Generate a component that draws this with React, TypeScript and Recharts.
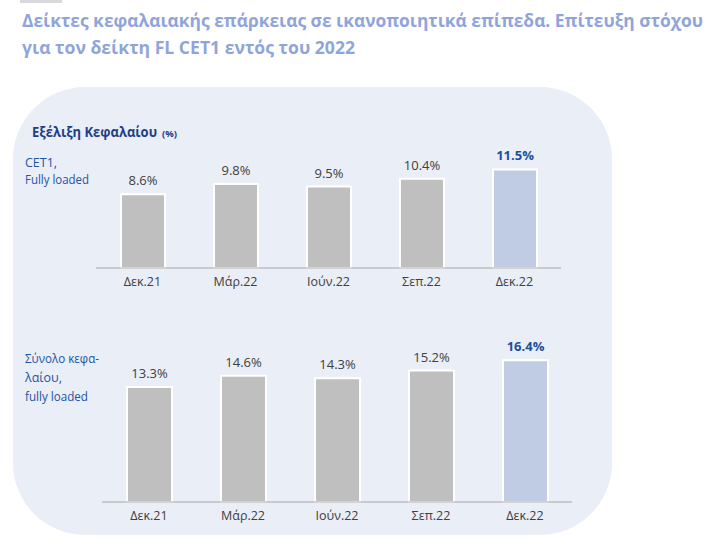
import React from 'react';
import { BarChart, Bar, XAxis, YAxis, Cell } from 'recharts';

const categories = ['Δεκ.21', 'Μάρ.22', 'Ιούν.22', 'Σεπ.22', 'Δεκ.22'];
const cet1Values = [8.6, 9.8, 9.5, 10.4, 11.5];
const totalCapitalValues = [13.3, 14.6, 14.3, 15.2, 16.4];
const titleLines = [
  'Δείκτες κεφαλαιακής επάρκειας σε ικανοποιητικά επίπεδα. Επίτευξη στόχου',
  'για τον δείκτη FL CET1 εντός του 2022',
];
const panelHeading = 'Εξέλιξη Κεφαλαίου';
const panelUnit = '(%)';
const cet1Label = ['CET1,', 'Fully loaded'];
const totalLabel = ['Σύνολο κεφα-', 'λαίου,', 'fully loaded'];

const cet1Data = categories.map((c, i) => ({ name: c, value: cet1Values[i] }));
const totalData = categories.map((c, i) => ({ name: c, value: totalCapitalValues[i] }));

const FONT = '"Open Sans", "Noto Sans", sans-serif';
const GRAY = '#BFBFBF';
const HIGHLIGHT = '#C0CCE3';
const LABEL_BLUE = '#1F4E9A';

const makeLabel = (count: number) => (props: any) => {
  const { x, y, width, value, index } = props;
  const last = index === count - 1;
  return (
    <text
      x={Number(x) + Number(width) / 2}
      y={Number(y) - 9}
      textAnchor="middle"
      fontFamily={FONT}
      fontSize={13}
      fontWeight={last ? 700 : 400}
      fill={last ? LABEL_BLUE : '#404040'}
    >
      {Number(value).toFixed(1)}%
    </text>
  );
};

function MiniChart({ data, width, height, domainMax, barSize }: any) {
  return (
    <BarChart
      width={width}
      height={height}
      data={data}
      margin={{ top: 30, right: 0, left: 0, bottom: 0 }}
    >
      <XAxis
        dataKey="name"
        height={30}
        axisLine={{ stroke: '#A6A6A6', strokeWidth: 1 }}
        tickLine={false}
        tickMargin={3}
        interval={0}
        tick={{ fontFamily: FONT, fontSize: 12.5, fill: '#404040' }}
      />
      <YAxis hide domain={[0, domainMax]} />
      <Bar
        dataKey="value"
        barSize={barSize}
        stroke="#FFFFFF"
        strokeWidth={2}
        isAnimationActive={false}
        label={makeLabel(data.length)}
      >
        {data.map((d: any, i: number) => (
          <Cell key={d.name} fill={i === data.length - 1 ? HIGHLIGHT : GRAY} />
        ))}
      </Bar>
    </BarChart>
  );
}

export default function App() {
  return (
    <div
      style={{
        position: 'absolute',
        left: 0,
        top: 0,
        width: 717,
        height: 550,
        background: '#FFFFFF',
        overflow: 'hidden',
      }}
    >
      <svg width={717} height={550} style={{ position: 'absolute', left: 0, top: 0 }}>
        <rect x={20} y={0} width={42} height={3} fill="#D9D9D9" />
        <rect x={13} y={87} width={599} height={448} rx={72} ry={72} fill="#EAEEF6" />
        <text x={22} y={27} fontFamily={FONT} fontWeight={700} fontSize={17.5} fill="#8FA5DA"
          textLength={681} lengthAdjust="spacingAndGlyphs">{titleLines[0]}</text>
        <text x={22} y={54} fontFamily={FONT} fontWeight={700} fontSize={17.5} fill="#8FA5DA"
          textLength={333} lengthAdjust="spacingAndGlyphs">{titleLines[1]}</text>
        <text x={32} y={137} fontFamily={FONT} fontWeight={700} fontSize={13.5} fill="#1F3F86"
          textLength={125} lengthAdjust="spacingAndGlyphs">{panelHeading}</text>
        <text x={162} y={137} fontFamily={FONT} fontWeight={700} fontSize={9.5} fill="#1F3F86">{panelUnit}</text>
        <text x={25} y={167} fontFamily={FONT} fontSize={12.5} fill="#2255A5">{cet1Label[0]}</text>
        <text x={25} y={184} fontFamily={FONT} fontSize={12.5} fill="#2255A5"
          textLength={64} lengthAdjust="spacingAndGlyphs">{cet1Label[1]}</text>
        <text x={25} y={363} fontFamily={FONT} fontSize={12.5} fill="#2255A5"
          textLength={74} lengthAdjust="spacingAndGlyphs">{totalLabel[0]}</text>
        <text x={25} y={382} fontFamily={FONT} fontSize={12.5} fill="#2255A5">{totalLabel[1]}</text>
        <text x={25} y={401} fontFamily={FONT} fontSize={12.5} fill="#2255A5"
          textLength={63} lengthAdjust="spacingAndGlyphs">{totalLabel[2]}</text>
      </svg>
      <div style={{ position: 'absolute', left: 96, top: 118 }}>
        <MiniChart data={cet1Data} width={465} height={180} domainMax={14} barSize={44} />
      </div>
      <div style={{ position: 'absolute', left: 102, top: 299 }}>
        <MiniChart data={totalData} width={470} height={233} domainMax={20} barSize={45} />
      </div>
    </div>
  );
}
